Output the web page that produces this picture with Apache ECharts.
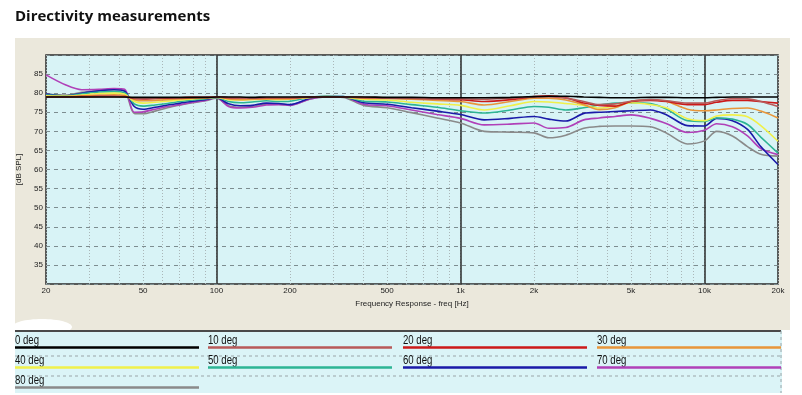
<!DOCTYPE html>
<html><head><meta charset="utf-8">
<script src="https://cdn.jsdelivr.net/npm/echarts@6/dist/echarts.min.js"></script>
<style>html,body{margin:0;padding:0;background:#fff}#c{width:802px;height:395px}</style>
</head><body><div id="c"></div>
<script>
const titleText = 'Directivity measurements';
const xName = 'Frequency Response - freq [Hz]';
const yName = '[dB SPL]';
const xTickLabels = [20, 50, 100, 200, 500, 1000, 2000, 5000, 10000, 20000];
const xMinorLines = [20,30,40,50,60,70,80,90,100,200,300,400,500,600,700,800,900,1000,2000,3000,4000,5000,6000,7000,8000,9000,10000,20000];
const xMajorLines = [100, 1000, 10000];
const yTicks = [35, 40, 45, 50, 55, 60, 65, 70, 75, 80, 85];

const freqs = [20,24,28,33,38,42,46,50,56,63,71,80,90,100,112,125,140,160,180,200,240,280,330,400,500,630,800,1000,1250,1600,2000,2300,2700,3200,3700,4300,5000,6000,7000,8500,10000,11200,13000,15000,17000,20000];

const seriesNames = ['0 deg','10 deg','20 deg','30 deg','40 deg','50 deg','60 deg','70 deg','80 deg'];
const seriesColors = ['#000000','#b85a5a','#cc1a1a','#e8963a','#f0f04a','#2db594','#1a1aa8','#b040b8','#8a8a8a'];

const deg0  = [79.0,79.0,79.0,79.0,79.0,79.0,78.9,78.9,78.9,78.9,78.9,78.9,78.9,79.0, 79.0,79.0,78.9,79.0,79.0,79.0,79.0,79.0,79.0,79.0,78.9,78.9,78.8,78.8, 78.8,78.9,79.1,79.2,79.2,79.0,78.9,78.8,78.8,78.9,78.9,78.8,78.8,78.9,79.0,79.0,79.0,79.0];
const deg10 = [79.0,79.0,79.0,79.1,79.1,79.0,78.7,78.6,78.7,78.8,78.8,78.9,78.9,79.0, 78.8,78.7,78.7,78.8,78.8,78.8,79.0,79.0,79.0,78.8,78.7,78.6,78.5,78.5, 78.4,78.7,79.0,79.1,78.7,77.8,77.0,77.2,77.9,78.3,78.0,77.4,77.4,78.0,78.6,78.5,77.8,76.5];
const deg20 = [79.0,79.0,79.1,79.2,79.2,79.1,78.6,78.5,78.6,78.7,78.8,78.9,78.9,79.0, 78.8,78.7,78.7,78.8,78.8,78.8,79.0,79.0,79.0,78.9,78.8,78.7,78.5,78.3, 77.8,78.3,79.1,79.3,78.8,77.4,76.8,76.6,77.8,78.1,77.8,77.0,77.0,77.6,78.1,78.1,77.8,77.4];
const deg30 = [79.1,79.1,79.3,79.5,79.6,79.4,78.3,78.0,78.1,78.3,78.5,78.7,78.8,79.0, 78.5,78.3,78.4,78.5,78.5,78.5,78.9,79.0,79.0,78.7,78.6,78.4,78.1,77.8, 76.9,77.8,78.7,78.7,78.2,77.0,75.7,76.2,77.8,78.2,77.8,75.8,75.4,75.6,76.0,76.1,75.3,73.5];
const deg40 = [79.3,79.2,79.5,79.9,80.0,79.7,77.8,77.4,77.6,77.9,78.2,78.5,78.7,78.9, 78.3,78.2,78.3,78.4,78.3,78.4,78.9,79.1,79.0,78.4,78.2,77.6,77.2,76.8, 75.6,76.7,77.8,77.7,77.3,76.8,76.1,76.6,77.5,77.0,76.1,73.3,72.8,74.0,74.3,73.8,71.5,67.4];
const deg50 = [79.5,79.3,79.8,80.3,80.4,80.1,77.2,76.6,76.9,77.3,77.8,78.2,78.5,78.9, 77.8,77.5,77.7,78.0,77.8,77.9,78.9,79.2,79.1,77.9,77.7,77.0,76.3,75.4, 74.8,75.6,76.5,76.3,75.6,76.2,76.9,77.4,77.5,77.3,75.8,72.8,72.6,73.5,73.2,71.8,68.5,64.3];
const deg60 = [79.8,79.3,80.0,80.6,80.9,80.5,76.5,75.8,76.3,76.9,77.4,77.9,78.3,78.8, 77.2,76.7,76.8,77.4,77.3,77.0,78.6,79.2,79.1,77.5,77.1,76.2,75.3,74.4, 73.0,73.4,73.9,73.2,72.7,74.7,75.0,75.2,75.4,75.6,74.3,71.5,71.4,73.4,72.8,70.5,66.0,61.3];
const deg70 = [84.8,82.2,80.9,81.0,81.2,81.0,75.0,75.1,75.8,76.5,77.0,77.6,78.1,78.8, 76.5,76.1,76.3,76.9,77.0,76.8,78.4,79.0,79.0,77.1,76.7,75.6,74.4,73.4, 71.7,71.9,72.2,70.8,71.0,73.0,73.5,73.9,74.3,73.4,72.0,69.7,70.3,72.0,71.2,68.8,65.5,63.9];
const deg80 = [79.8,79.5,80.2,80.7,81.0,80.6,74.7,74.6,75.3,76.2,76.9,77.5,78.0,78.7, 76.7,76.3,76.5,77.1,77.1,76.9,78.4,79.0,78.9,76.8,76.2,74.9,73.5,72.2, 70.0,69.8,69.6,68.3,69.0,70.8,71.3,71.4,71.4,71.2,69.5,66.7,67.5,70.0,68.8,66.0,64.0,63.5];

const allValues = [deg0, deg10, deg20, deg30, deg40, deg50, deg60, deg70, deg80];

const chart = echarts.init(document.getElementById('c'), null, {renderer: 'canvas'});
const narrow = "'Liberation Sans','DejaVu Sans',sans-serif";

const series = [];
for (let i = allValues.length - 1; i >= 0; i--) {
  series.push({
    name: seriesNames[i], type: 'line', xAxisIndex: 0, yAxisIndex: 0,
    data: freqs.map((f, k) => [f, allValues[i][k]]),
    showSymbol: false, smooth: 0.3,
    lineStyle: {color: seriesColors[i], width: 1.6},
    itemStyle: {color: seriesColors[i]},
    z: 3
  });
}

const legendGraphics = [];
const colX = [15, 208, 403, 597];
const colW = 184;
const rowY = [333, 353, 373];
legendGraphics.push({type: 'rect', z: -5, shape: {x: 15, y: 330, width: 767, height: 63}, style: {fill: '#dbf4f7'}});
legendGraphics.push({type: 'line', z: 5, shape: {x1: 15, y1: 331, x2: 781, y2: 331}, style: {stroke: '#4a4a4a', lineWidth: 2}});
legendGraphics.push({type: 'line', z: 5, shape: {x1: 15, y1: 356, x2: 781, y2: 356}, style: {stroke: '#9aa5a8', lineWidth: 1, lineDash: [3, 3]}});
legendGraphics.push({type: 'line', z: 5, shape: {x1: 15, y1: 376, x2: 781, y2: 376}, style: {stroke: '#9aa5a8', lineWidth: 1, lineDash: [3, 3]}});
legendGraphics.push({type: 'line', z: 5, shape: {x1: 781, y1: 331, x2: 781, y2: 393}, style: {stroke: '#9aa5a8', lineWidth: 1, lineDash: [3, 3]}});
seriesNames.forEach((n, i) => {
  const c = i % 4, r = Math.floor(i / 4);
  const x = colX[c], y = rowY[r];
  legendGraphics.push({type: 'text', z: 6, x: x, y: y + 2, scaleX: 0.8,
    style: {text: n, x: 0, y: 0, fill: '#111', font: '12px ' + narrow, textVerticalAlign: 'top'}});
  legendGraphics.push({type: 'line', z: 6, shape: {x1: x, y1: y + 14.5, x2: x + colW, y2: y + 14.5},
    style: {stroke: seriesColors[i], lineWidth: 2.5}});
});

const option = {
  animation: false,
  backgroundColor: '#ffffff',
  title: {text: titleText, left: 10, top: 4,
    textStyle: {fontFamily: "'Open Sans',sans-serif", fontWeight: 'bold', fontSize: 15, color: '#111'}},
  grid: {left: 46, right: 24, top: 55, bottom: 111, show: true,
    backgroundColor: '#d8f3f6', borderColor: '#2a2a2a', borderWidth: 1.5, containLabel: false},
  graphic: [
    {type: 'rect', z: -10, shape: {x: 15, y: 38, width: 775, height: 292}, style: {fill: '#ebe8dc'}},
    {type: 'ellipse', z: -9, shape: {cx: 42, cy: 327, rx: 30, ry: 8}, style: {fill: '#ffffff'}}
  ].concat(legendGraphics),
  xAxis: [
    {type: 'log', logBase: 10, min: 20, max: 20000,
      name: xName, nameLocation: 'middle', nameGap: 13,
      nameTextStyle: {fontSize: 8, color: '#222', fontFamily: narrow},
      axisLine: {show: false},
      axisTick: {show: false, customValues: xMinorLines},
      axisLabel: {customValues: xTickLabels, fontSize: 8, color: '#222', margin: 3, fontFamily: narrow,
        formatter: v => v >= 1000 ? (v / 1000) + 'k' : String(v)},
      splitLine: {show: true, lineStyle: {color: '#aab6b8', width: 1, type: [1, 2]}}
    },
    {type: 'log', logBase: 10, min: 20, max: 20000, position: 'bottom',
      axisLine: {show: false},
      axisTick: {show: false, customValues: xMajorLines},
      axisLabel: {show: false},
      splitLine: {show: true, lineStyle: {color: '#2a2a2a', width: 1.5}}
    }
  ],
  yAxis: {type: 'value', min: 30, max: 90, interval: 5,
    name: yName, nameLocation: 'middle', nameGap: 15, nameRotate: 90,
    nameTextStyle: {fontSize: 8, color: '#222', fontFamily: narrow},
    axisLine: {show: false}, axisTick: {show: false},
    axisLabel: {fontSize: 8, color: '#222', margin: 3, fontFamily: narrow,
      formatter: v => yTicks.indexOf(v) >= 0 ? String(v) : ''},
    splitLine: {show: true, lineStyle: {color: '#7d8d90', width: 1, type: [4, 4]}}
  },
  series: series
};
chart.setOption(option);
</script></body></html>
